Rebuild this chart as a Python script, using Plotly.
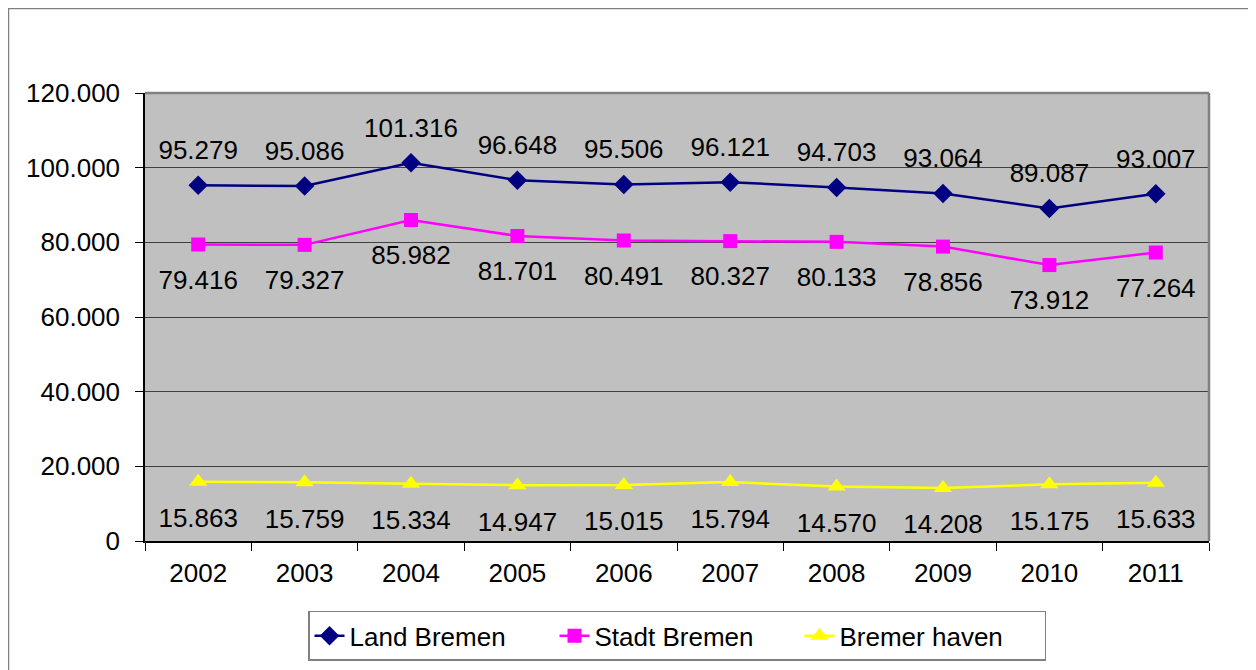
import plotly.graph_objects as go

years = ["2002", "2003", "2004", "2005", "2006", "2007", "2008", "2009", "2010", "2011"]
land_bremen = [95279, 95086, 101316, 96648, 95506, 96121, 94703, 93064, 89087, 93007]
stadt_bremen = [79416, 79327, 85982, 81701, 80491, 80327, 80133, 78856, 73912, 77264]
bremerhaven = [15863, 15759, 15334, 14947, 15015, 15794, 14570, 14208, 15175, 15633]

font = "Liberation Sans, Arial, sans-serif"

fig = go.Figure()
fig.add_trace(go.Scatter(
    x=years, y=land_bremen, name="Land Bremen", mode="lines+markers",
    line=dict(color="#000080", width=2.5),
    marker=dict(symbol="diamond", size=15, color="#000080"),
))
fig.add_trace(go.Scatter(
    x=years, y=stadt_bremen, name="Stadt Bremen", mode="lines+markers",
    line=dict(color="#FF00FF", width=2.5),
    marker=dict(symbol="square", size=14, color="#FF00FF"),
))
fig.add_trace(go.Scatter(
    x=years, y=bremerhaven, name="Bremer haven", mode="lines+markers",
    line=dict(color="#FFFF00", width=2.5),
    marker=dict(symbol="triangle-up", size=16, color="#FFFF00"),
))

# data labels: invisible markers set how far the text sits from the point
for series, pos, msize in [(land_bremen, "top center", 30),
                           (stadt_bremen, "bottom center", 38),
                           (bremerhaven, "bottom center", 40)]:
    fig.add_trace(go.Scatter(
        x=years, y=series, mode="markers+text", showlegend=False, hoverinfo="skip",
        marker=dict(size=msize, color="rgba(0,0,0,0)"),
        texttemplate="%{y:,d}", textposition=pos,
        textfont=dict(size=26, color="black"),
    ))

# outer chart frame
fig.add_shape(type="rect", xref="paper", yref="paper",
              x0=-0.1283, x1=1.06, y0=-0.35, y1=1.1886,
              line=dict(color="#808080", width=1.5), layer="below")

fig.update_layout(
    width=1256, height=670,
    margin=dict(l=137, r=55, t=85, b=137),
    paper_bgcolor="white", plot_bgcolor="#C0C0C0",
    separators=",.",
    font=dict(family=font, size=26, color="black"),
    showlegend=True,
    legend=dict(orientation="h", x=0.5, xanchor="center", y=-0.156, yanchor="top",
                bordercolor="#808080", borderwidth=1.5, bgcolor="white",
                font=dict(size=26), entrywidth=200, entrywidthmode="pixels"),
)
fig.update_xaxes(
    type="category", range=[-0.5, 9.5], showgrid=False,
    ticks="outside", ticklen=8, tickcolor="black", tickson="boundaries",
    showline=True, linecolor="black", linewidth=1.5, mirror=False,
    tickfont=dict(size=26), ticklabelstandoff=8,
)
fig.update_yaxes(
    range=[0, 120000], dtick=20000, tickformat=",d",
    showgrid=True, gridcolor="#404040", gridwidth=1,
    ticks="outside", ticklen=8, tickcolor="black",
    showline=True, linecolor="black", linewidth=1.5,
    zeroline=False, tickfont=dict(size=26), ticklabelstandoff=10,
)
# gray border on top and right of plot area
fig.add_shape(type="line", xref="paper", yref="paper", x0=0, x1=1, y0=1, y1=1,
              line=dict(color="#808080", width=2.5))
fig.add_shape(type="line", xref="paper", yref="paper", x0=1, x1=1, y0=0, y1=1,
              line=dict(color="#808080", width=2.5))

fig.write_html("out.html")
